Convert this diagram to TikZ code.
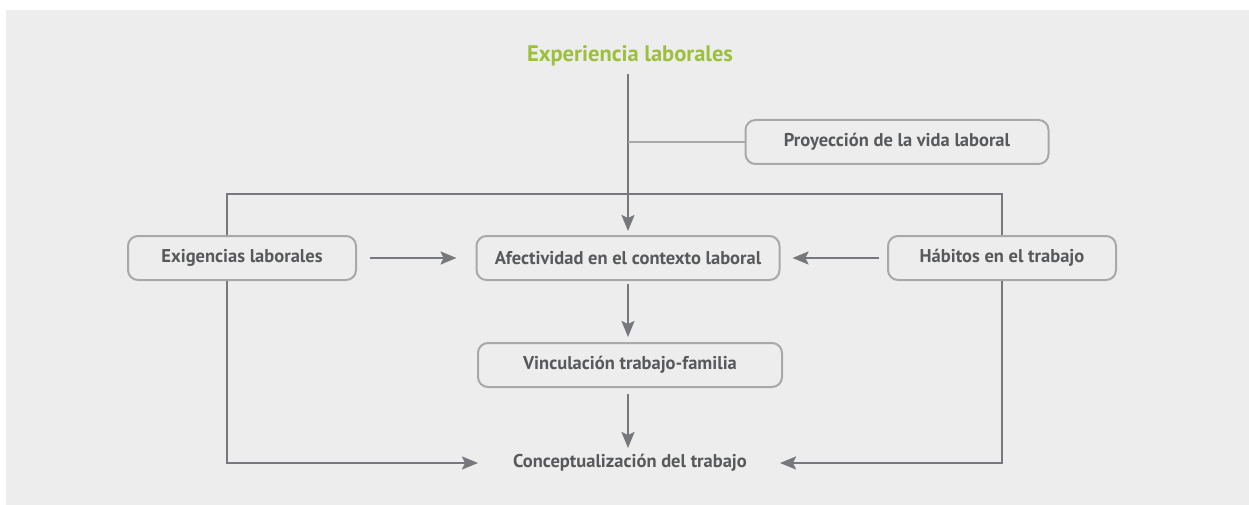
\documentclass[tikz,border=0pt]{standalone}
\usepackage{fontspec}
\setmainfont{PT Sans}
\usetikzlibrary{positioning, calc, arrows.meta}

\definecolor{bgGray}{HTML}{EDEDED}
\definecolor{boxLine}{HTML}{A7A8AA}
\definecolor{arrowGray}{HTML}{77787B}
\definecolor{textGray}{HTML}{58595B}
\definecolor{titleGreen}{HTML}{9DC03C}

\begin{document}
\begin{tikzpicture}[x=1pt, y=-1pt, line width=2pt, draw=arrowGray,
  >={Stealth[length=16pt, width=13pt, inset=3pt]},
  box/.style={draw=boxLine, line width=2pt, rounded corners=10pt, fill=bgGray,
    minimum height=44pt, text=textGray, font=\fontsize{18.5}{22}\selectfont\bfseries},
  plain/.style={text=textGray, font=\fontsize{18.5}{22}\selectfont\bfseries},
  link/.style={draw=arrowGray, line width=2pt},
  ]
  \useasboundingbox (0,0) rectangle (1249,505);
  \fill[bgGray] (6,10) rectangle (1249,505);

  % nodes
  \node[text=titleGreen, font=\fontsize{22.5}{26}\selectfont\bfseries] (title) at (630,56) {Experiencia laborales};
  \node[box, minimum width=303pt] (proy) at (897,142) {Proyección de la vida laboral};
  \node[box, minimum width=228pt] (exig) at (242,258) {Exigencias laborales};
  \node[box, minimum width=303pt] (afect) at (628,258) {Afectividad en el contexto laboral};
  \node[box, minimum width=228pt] (habit) at (1002,258) {Hábitos en el trabajo};
  \node[box, minimum width=304pt] (vinc) at (630,365) {Vinculación trabajo-familia};
  \node[plain] (concept) at (630,463) {Conceptualización del trabajo};

  \coordinate (top) at (628,74);
  \coordinate (branch) at (628,142);
  \coordinate (loopL) at (227,194);
  \coordinate (loopR) at (1002,194);
  \coordinate (downL) at (227,463);
  \coordinate (downR) at (1002,463);

  % connectors
  \draw[link, ->] (top) -- ($(afect.north)+(0,-4)$);
  \draw[link, ->] ($(exig.east)+(13,0)$) -- ($(afect.west)+(-19,0)$);
  \draw[link, ->] ($(habit.west)+(-8,0)$) -- ($(afect.east)+(12,0)$);
  \draw[link, ->] ($(afect.south)+(0,3)$) -- ($(afect.south |- vinc.north)+(0,-5)$);
  \draw[link, ->] ($(afect.south |- vinc.south)+(0,6)$) -- (628,448);
  \draw[draw=boxLine, line width=2pt] (branch) -- (proy.west);
  \draw[link] (exig.north -| loopL) -- (loopL) -- (loopR) -- (habit.north);
  \draw[link, ->] (exig.south -| downL) -- (downL) -- (478,463);
  \draw[link, ->] (habit.south) -- (downR) -- (780,463);
\end{tikzpicture}
\end{document}
